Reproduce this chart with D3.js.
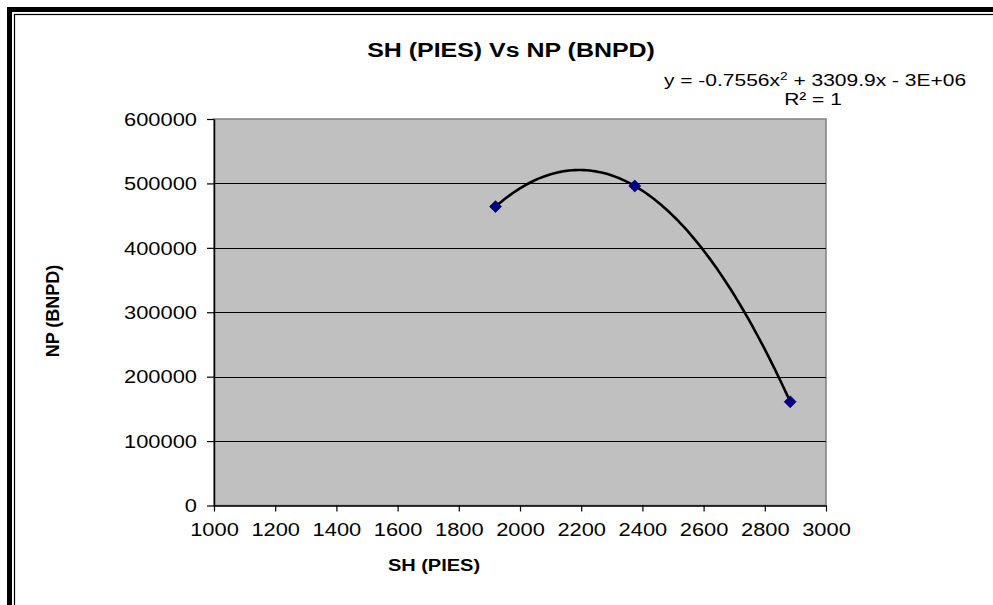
<!DOCTYPE html>
<html>
<head>
<meta charset="utf-8">
<script src="https://cdn.jsdelivr.net/npm/d3@7"></script>
<style>
  body { margin: 0; background: #fff; }
  text { font-family: "Liberation Sans", Arial, sans-serif; fill: #000; }
</style>
</head>
<body>
<svg id="chart" width="993" height="605"></svg>
<script>
// data
const sh = [1920, 2375, 2883];
const np = [464000, 496000, 161000];
const xTicks = [1000, 1200, 1400, 1600, 1800, 2000, 2200, 2400, 2600, 2800, 3000];
const yTicks = [0, 100000, 200000, 300000, 400000, 500000, 600000];
const titleText = "SH (PIES) Vs NP (BNPD)";
const xTitle = "SH (PIES)";
const yTitle = "NP (BNPD)";
const eqLine1 = ["y = -0.7556x", "2", " + 3309.9x - 3E+06"];
const eqLine2 = "R² = 1";

const sx = 1.25; // text in the picture is stretched sideways

const svg = d3.select("#chart");
const plot = { left: 214, top: 119, right: 826, bottom: 505.5 };

// frame: thick black line with a thin one inside
svg.append("rect")
    .attr("x", 9.5).attr("y", 9.5)
    .attr("width", 1100).attr("height", 800)
    .attr("fill", "none").attr("stroke", "#000").attr("stroke-width", 5);
svg.append("rect")
    .attr("x", 14.5).attr("y", 14.5)
    .attr("width", 1100).attr("height", 800)
    .attr("fill", "none").attr("stroke", "#000").attr("stroke-width", 1.2);

const x = d3.scaleLinear().domain([1000, 3000]).range([plot.left, plot.right]);
const y = d3.scaleLinear().domain([0, 600000]).range([plot.bottom, plot.top]);

// plot area
svg.append("rect")
    .attr("x", plot.left).attr("y", plot.top)
    .attr("width", plot.right - plot.left).attr("height", plot.bottom - plot.top)
    .attr("fill", "#c0c0c0").attr("stroke", "#808080").attr("stroke-width", 1.5);

// gridlines
svg.append("g").selectAll("line")
    .data(yTicks.slice(1, -1))
    .join("line")
    .attr("x1", plot.left).attr("x2", plot.right)
    .attr("y1", d => Math.round(y(d)) + 0.5).attr("y2", d => Math.round(y(d)) + 0.5)
    .attr("stroke", "#000").attr("stroke-width", 1);

// axes
const xAxis = svg.append("g")
    .attr("transform", `translate(0,${plot.bottom})`)
    .call(d3.axisBottom(x).tickValues(xTicks).tickSize(6).tickSizeOuter(0).tickFormat(d3.format("d")));
const yAxis = svg.append("g")
    .attr("transform", `translate(${plot.left},0)`)
    .call(d3.axisLeft(y).tickValues(yTicks).tickSize(7).tickSizeOuter(0).tickFormat(d3.format("d")));

[xAxis, yAxis].forEach(a => {
    a.select(".domain").attr("stroke", "#000").attr("stroke-width", 1.5);
    a.selectAll(".tick line").attr("stroke", "#000").attr("stroke-width", 1.2);
    a.selectAll(".tick text").attr("font-size", 17.5).attr("fill", "#000")
        .style("font-family", "'Liberation Sans', Arial, sans-serif");
});
xAxis.selectAll(".tick text")
    .attr("y", 30.5).attr("dy", 0)
    .attr("transform", `scale(${sx},1)`);
yAxis.selectAll(".tick text")
    .attr("x", -17 / sx).attr("dy", "0.36em")
    .attr("transform", `scale(${sx},1)`);

// quadratic trendline fitted through the points
function fitQuadratic(xs, ys) {
    const n = xs.length;
    let s = [0, 0, 0, 0, 0], t = [0, 0, 0];
    for (let i = 0; i < n; i++) {
        for (let k = 0; k < 5; k++) s[k] += Math.pow(xs[i], k);
        for (let k = 0; k < 3; k++) t[k] += ys[i] * Math.pow(xs[i], k);
    }
    const m = [[s[0], s[1], s[2], t[0]], [s[1], s[2], s[3], t[1]], [s[2], s[3], s[4], t[2]]];
    for (let c = 0; c < 3; c++) {
        for (let r = c + 1; r < 3; r++) {
            const f = m[r][c] / m[c][c];
            for (let k = c; k < 4; k++) m[r][k] -= f * m[c][k];
        }
    }
    const coef = [0, 0, 0];
    for (let r = 2; r >= 0; r--) {
        let v = m[r][3];
        for (let k = r + 1; k < 3; k++) v -= m[r][k] * coef[k];
        coef[r] = v / m[r][r];
    }
    return xv => coef[0] + coef[1] * xv + coef[2] * xv * xv;
}
const trend = fitQuadratic(sh, np);
const [x0, x1] = d3.extent(sh);
const trendPts = d3.range(0, 101).map(i => {
    const xv = x0 + (x1 - x0) * i / 100;
    return [xv, trend(xv)];
});
svg.append("path")
    .datum(trendPts)
    .attr("d", d3.line().x(d => x(d[0])).y(d => y(d[1])).curve(d3.curveLinear))
    .attr("fill", "none").attr("stroke", "#000").attr("stroke-width", 2.6);

// markers
svg.append("g").selectAll("path")
    .data(sh.map((d, i) => [d, np[i]]))
    .join("path")
    .attr("transform", d => `translate(${x(d[0])},${y(d[1])})`)
    .attr("d", d3.symbol(d3.symbolDiamond2, 90))
    .attr("fill", "#000080").attr("stroke", "#000080").attr("stroke-width", 0.8);

// texts
function label(px, py, size, bold, str, scale) {
    return svg.append("text")
        .attr("transform", `translate(${px},${py}) scale(${scale},1)`)
        .attr("text-anchor", "middle")
        .attr("font-size", size)
        .attr("font-weight", bold ? "bold" : "normal")
        .text(str);
}
label(511, 57, 19.5, true, titleText, 1.28);
label(434, 571, 16, true, xTitle, sx);

const eq = svg.append("text")
    .attr("transform", `translate(815,86) scale(${sx},1)`)
    .attr("text-anchor", "middle")
    .attr("font-size", 16.8);
eq.append("tspan").text(eqLine1[0]);
eq.append("tspan").attr("font-size", 11).attr("dy", -6).text(eqLine1[1]);
eq.append("tspan").attr("dy", 6).text(eqLine1[2]);
label(813, 105, 16.8, false, eqLine2, sx);

svg.append("text")
    .attr("transform", "translate(59,311) rotate(-90)")
    .attr("text-anchor", "middle")
    .attr("font-size", 18)
    .attr("font-weight", "bold")
    .text(yTitle);
</script>
</body>
</html>
